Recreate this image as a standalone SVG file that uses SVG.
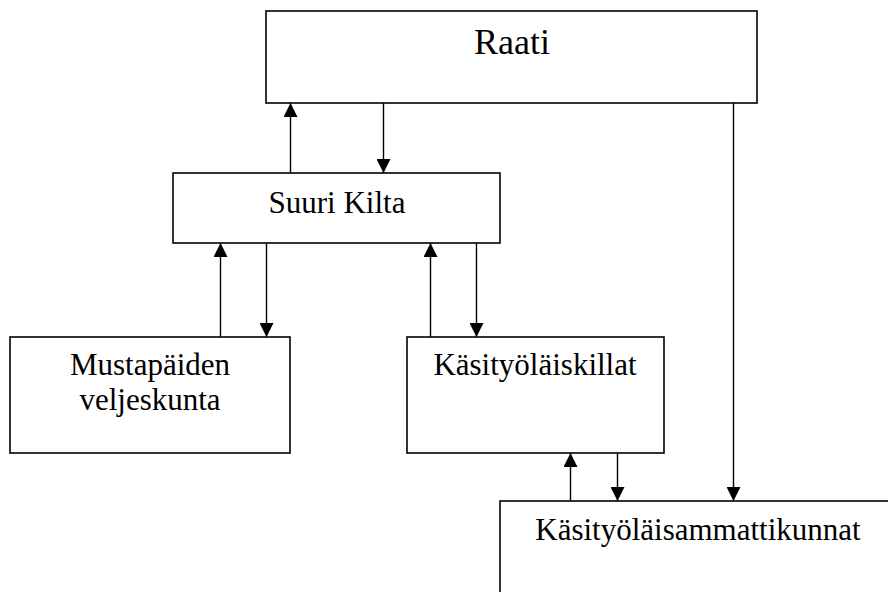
<svg xmlns="http://www.w3.org/2000/svg" width="888" height="592" viewBox="0 0 888 592">
<style>
.box{fill:#fff;stroke:#000;stroke-width:1.6}
.lbl{font-family:"Liberation Serif","Times New Roman",serif;font-size:31px;fill:#000;text-anchor:middle}
.conn line{stroke:#000;stroke-width:1.4;marker-end:url(#ah)}
</style>
<defs>
<marker id="ah" viewBox="0 0 14 14" markerWidth="14" markerHeight="14" refX="14" refY="7" orient="auto" markerUnits="userSpaceOnUse">
<polygon points="0,0 14,7 0,14" fill="#000"/>
</marker>
</defs>
<rect width="888" height="592" fill="#fff"/>
<g id="raati">
<rect class="box" x="266" y="11" width="491" height="92"/>
<text class="lbl" x="512" y="54" style="font-size:36px">Raati</text>
</g>
<g id="suuri-kilta">
<rect class="box" x="173" y="173" width="327" height="70"/>
<text class="lbl" x="337" y="213">Suuri Kilta</text>
</g>
<g id="mustapaiden">
<rect class="box" x="10" y="337" width="280" height="116"/>
<text class="lbl" x="150" y="375">Mustapäiden</text>
<text class="lbl" x="150" y="410">veljeskunta</text>
</g>
<g id="kasityolaiskillat">
<rect class="box" x="407" y="337" width="257" height="116"/>
<text class="lbl" x="535" y="375">Käsityöläiskillat</text>
</g>
<g id="kasityolaisammattikunnat">
<rect class="box" x="500" y="501" width="400" height="110"/>
<text class="lbl" x="698" y="540">Käsityöläisammattikunnat</text>
</g>
<g id="connectors" class="conn">
<line x1="290.5" y1="173" x2="290.5" y2="103"/>
<line x1="383.5" y1="103" x2="383.5" y2="173"/>
<line x1="733.5" y1="103" x2="733.5" y2="501"/>
<line x1="220.5" y1="337" x2="220.5" y2="243"/>
<line x1="266.5" y1="243" x2="266.5" y2="337"/>
<line x1="430.5" y1="337" x2="430.5" y2="243"/>
<line x1="476.5" y1="243" x2="476.5" y2="337"/>
<line x1="570.5" y1="501" x2="570.5" y2="453"/>
<line x1="617.5" y1="453" x2="617.5" y2="501"/>
</g>
</svg>
